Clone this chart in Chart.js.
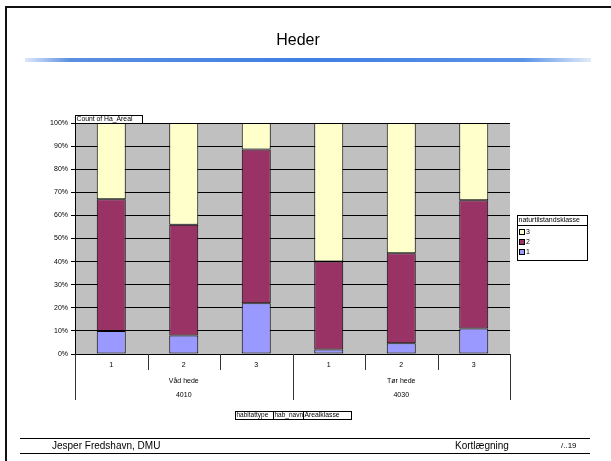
<!DOCTYPE html>
<html>
<head>
<meta charset="utf-8">
<script src="https://cdn.jsdelivr.net/npm/chart.js@4"></script>
<style>
  html, body { margin: 0; padding: 0; background: #fff; }
  canvas { display: block; }
</style>
</head>
<body>
<canvas id="chart" width="611" height="461"></canvas>
<script>
// kategorier (Arealklasse inden for hver habitattype)
const arealklasse = ['1', '2', '3', '1', '2', '3'];
const habNavn = ['Våd hede', 'Tør hede'];
const habitattype = ['4010', '4030'];

// andel i procent pr. naturtilstandsklasse
const klasse1 = [10, 8, 22, 2, 4.6, 11];
const klasse2 = [57, 48, 66.5, 38, 39, 55.6];
const klasse3 = [33, 44, 11.5, 60, 56.4, 33.4];

const yTicks = [0, 10, 20, 30, 40, 50, 60, 70, 80, 90, 100];

const FONT = '"Liberation Sans", Arial, sans-serif';

const slidePlugin = {
    id: 'slide',
    beforeDraw(chart) {
        const c = chart.ctx;
        const a = chart.chartArea;
        c.save();
        c.fillStyle = '#fff';
        c.fillRect(0, 0, chart.width, chart.height);
        // plot baggrund
        c.fillStyle = '#C0C0C0';
        c.fillRect(a.left, a.top, a.right - a.left, a.bottom - a.top);
        c.restore();
    },
    afterDraw(chart) {
        const c = chart.ctx;
        const a = chart.chartArea;
        const x = chart.scales.x;
        c.save();

        // ramme
        c.strokeStyle = '#111';
        c.lineWidth = 2;
        c.beginPath();
        c.moveTo(6, 461);
        c.lineTo(6, 7);
        c.lineTo(611, 7);
        c.stroke();

        // titel
        c.fillStyle = '#000';
        c.font = '16px ' + FONT;
        c.textAlign = 'center';
        c.textBaseline = 'middle';
        c.fillText('Heder', 298, 41);

        // blå streg
        const g = c.createLinearGradient(25, 0, 591, 0);
        g.addColorStop(0, 'rgba(220,232,250,1)');
        g.addColorStop(0.08, '#5a8fe0');
        g.addColorStop(0.5, '#3f80e4');
        g.addColorStop(0.88, '#5a92e6');
        g.addColorStop(1, 'rgba(225,235,250,1)');
        c.fillStyle = g;
        c.fillRect(25, 58, 566, 4);

        // sidefod
        c.strokeStyle = '#000';
        c.lineWidth = 1;
        c.beginPath();
        c.moveTo(20, 438.5); c.lineTo(590, 438.5);
        c.moveTo(20, 453.5); c.lineTo(590, 453.5);
        c.stroke();
        c.fillStyle = '#000';
        c.font = '10px ' + FONT;
        c.textAlign = 'left';
        c.fillText('Jesper Fredshavn, DMU', 52, 446);
        c.fillText('Kortlægning', 455, 446);
        c.font = '8px ' + FONT;
        c.fillText('/..19', 561, 446);

        // kategori-akse i tre niveauer
        const n = arealklasse.length;
        const step = (a.right - a.left) / n;
        c.font = '7px ' + FONT;
        c.textAlign = 'center';
        c.fillStyle = '#000';
        arealklasse.forEach((lab, i) => {
            c.fillText(lab, x.getPixelForValue(i), 365);
        });
        const per = n / habNavn.length;
        habNavn.forEach((lab, j) => {
            const cx = (x.getPixelForValue(j * per) + x.getPixelForValue(j * per + per - 1)) / 2;
            c.fillText(lab, cx, 381);
            c.fillText(habitattype[j], cx, 395);
        });
        c.strokeStyle = '#333';
        c.beginPath();
        for (let i = 0; i <= n; i++) {
            const px = Math.round(a.left + i * step) + 0.5;
            const long = i % per === 0;
            c.moveTo(px, a.bottom);
            c.lineTo(px, long ? 400 : 370);
        }
        c.stroke();

        // feltknapper
        const button = (txt, bx, by, bw, bh, size) => {
            c.font = size + 'px ' + FONT;
            c.fillStyle = '#fff';
            c.fillRect(bx, by, bw, bh);
            c.strokeStyle = '#000';
            c.strokeRect(bx + 0.5, by + 0.5, bw, bh);
            c.fillStyle = '#000';
            c.textAlign = 'left';
            c.fillText(txt, bx + 1.5, by + bh / 2 + 0.5);
        };
        button('Count of Ha_Areal', 75, 115, 67, 8, 6.8);
        button('habitattype', 235, 411, 38, 8, 6.5);
        button('hab_navn', 273, 411, 30, 8, 6.5);
        button('Arealklasse', 303, 411, 48, 8, 6.8);

        // forklaring
        c.font = '7px ' + FONT;
        c.fillStyle = '#fff';
        c.fillRect(517, 215, 70, 45);
        c.strokeStyle = '#000';
        c.strokeRect(517.5, 215.5, 70, 45);
        c.beginPath();
        c.moveTo(517, 225.5); c.lineTo(587, 225.5);
        c.stroke();
        c.fillStyle = '#000';
        c.textAlign = 'left';
        c.fillText('naturtilstandsklasse', 518.5, 220.5);
        const ds = chart.data.datasets;
        [2, 1, 0].forEach((k, i) => {
            const yy = 232 + i * 10;
            c.fillStyle = ds[k].backgroundColor;
            c.fillRect(519.5, yy - 2.5, 5, 5);
            c.strokeStyle = '#000';
            c.strokeRect(519.5, yy - 2.5, 5, 5);
            c.fillStyle = '#000';
            c.fillText(ds[k].label, 526, yy + 0.5);
        });

        c.restore();
    }
};

new Chart(document.getElementById('chart'), {
    type: 'bar',
    data: {
        labels: arealklasse,
        datasets: [
            { label: '1', data: klasse1, backgroundColor: '#9999FF' },
            { label: '2', data: klasse2, backgroundColor: '#993366' },
            { label: '3', data: klasse3, backgroundColor: '#FFFFCC' }
        ].map(d => Object.assign(d, {
            borderColor: '#000',
            borderWidth: 1,
            borderSkipped: false,
            categoryPercentage: 1,
            barPercentage: 0.4
        }))
    },
    options: {
        responsive: false,
        animation: false,
        devicePixelRatio: 1,
        layout: { padding: { top: 123, right: 101, bottom: 107, left: 0 } },
        plugins: {
            legend: { display: false },
            title: { display: false },
            tooltip: { enabled: false }
        },
        scales: {
            x: {
                stacked: true,
                display: false
            },
            y: {
                stacked: true,
                min: 0,
                max: 100,
                afterFit(scale) { scale.width = 75; },
                afterBuildTicks(scale) { scale.ticks = yTicks.map(v => ({ value: v })); },
                ticks: {
                    color: '#000',
                    font: { size: 7, family: FONT },
                    padding: 3,
                    callback: v => v + '%'
                },
                grid: {
                    color: '#000',
                    lineWidth: 1,
                    tickLength: 4,
                    drawOnChartArea: true
                },
                border: { color: '#000', width: 1 }
            }
        }
    },
    plugins: [slidePlugin]
});
</script>
</body>
</html>
